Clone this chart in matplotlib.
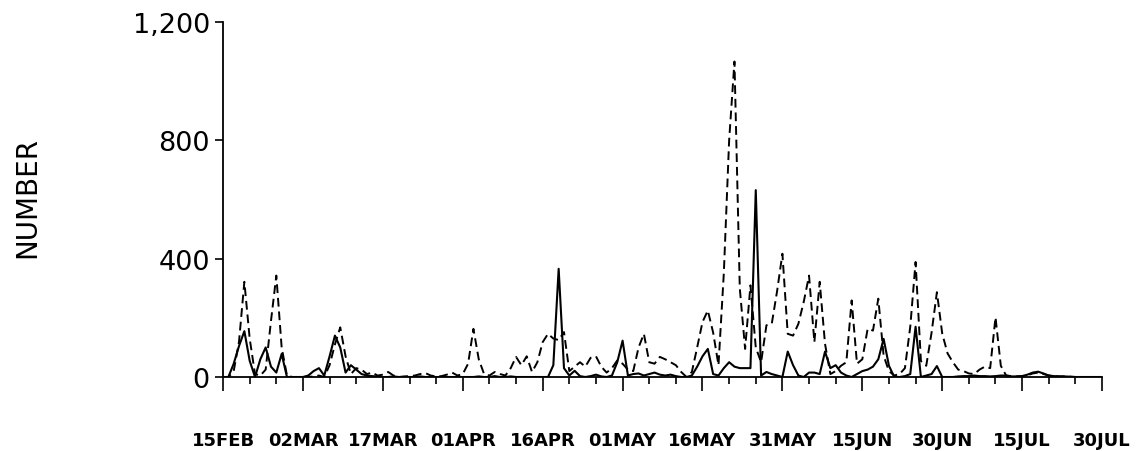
"""
Daily counts, 15 Feb - 30 Jul: two series (solid and dashed) on one panel
"""

import numpy as np
import pandas as pd
import matplotlib
matplotlib.use('Agg')  # no display
import matplotlib.pyplot as plt

# Daily dates (non-leap year: 15FEB + 15 days = 02MAR)
dates = pd.date_range('1991-02-15', '1991-07-30', freq='D')

# Solid series, one value per day (15-day blocks)
solid = [
    0, 0, 45, 105, 155, 55, 0, 60, 100, 35, 15, 78, 0, 0, 0,          # 15FEB
    0, 5, 20, 30, 5, 70, 140, 100, 15, 40, 25, 10, 5, 3, 2,           # 02MAR
    0, 0, 2, 0, 0, 0, 0, 2, 0, 0, 0, 0, 0, 0, 0,                      # 17MAR
    0, 0, 0, 2, 0, 0, 3, 0, 0, 2, 0, 0, 0, 0, 0,                      # 01APR
    0, 0, 40, 366, 30, 5, 21, 3, 0, 3, 8, 2, 0, 5, 50,                # 16APR
    123, 5, 10, 12, 5, 10, 15, 8, 5, 8, 3, 0, 0, 5, 35,               # 01MAY
    70, 95, 10, 5, 30, 50, 35, 30, 30, 30, 632, 5, 17, 10, 5,         # 16MAY
    0, 86, 40, 5, 0, 15, 15, 10, 86, 30, 40, 15, 5, 0, 10,            # 31MAY
    20, 25, 35, 60, 129, 38, 0, 0, 3, 10, 170, 0, 5, 10, 37,          # 15JUN
    0, 0, 0, 2, 3, 3, 5, 3, 3, 2, 3, 5, 5, 2, 2,                      # 30JUN
    3, 8, 15, 18, 12, 5, 3, 2, 2, 1, 0, 0, 0, 0, 0,                   # 15JUL
    0,                                                                # 30JUL
]

# Dashed series
dashed = [
    0, 0, 20, 120, 322, 130, 10, 5, 25, 190, 343, 100, 5, 0, 0,
    0, 0, 2, 5, 0, 40, 110, 168, 70, 10, 30, 25, 10, 15, 5,
    8, 17, 5, 0, 2, 3, 5, 10, 13, 5, 2, 3, 8, 15, 5,
    10, 45, 163, 60, 10, 5, 17, 10, 5, 30, 68, 40, 70, 17, 50,
    118, 146, 130, 125, 152, 20, 35, 50, 35, 65, 70, 35, 15, 30, 56,
    45, 25, 20, 100, 146, 50, 45, 68, 60, 50, 40, 17, 0, 17, 100,
    186, 225, 150, 40, 350, 800, 1067, 300, 95, 310, 100, 50, 175, 180, 290,
    417, 146, 140, 180, 254, 343, 118, 322, 112, 10, 20, 38, 50, 259, 45,
    60, 163, 157, 265, 72, 20, 5, 10, 30, 170, 389, 54, 38, 150, 287,
    147, 80, 50, 25, 20, 12, 10, 25, 35, 30, 202, 38, 5, 3, 2,
    3, 6, 12, 15, 10, 5, 3, 2, 2, 1, 0, 0, 0, 0, 0,
    0,
]

x_tick_labels = ['15FEB', '02MAR', '17MAR', '01APR', '16APR', '01MAY',
                 '16MAY', '31MAY', '15JUN', '30JUN', '15JUL', '30JUL']
y_ticks = [0, 400, 800, 1200]
y_tick_labels = ['0', '400', '800', '1,200']

fig = plt.figure(figsize=(11.38, 4.52), dpi=100)
ax = fig.add_axes([0.196, 0.1637, 0.7724, 0.785])

ax.plot(dates, dashed, color='black', linewidth=1.4, dashes=(4.5, 2.5))
ax.plot(dates, solid, color='black', linewidth=1.5)

ax.set_xlim(dates[0], dates[-1])
ax.set_ylim(0, 1200)

# Major ticks every 15 days, minor every 5
ax.set_xticks(pd.date_range(dates[0], periods=len(x_tick_labels), freq='15D'))
ax.set_xticklabels(x_tick_labels, fontsize=13, fontweight='bold')
ax.set_xticks(pd.date_range(dates[0], dates[-1], freq='5D'), minor=True)
ax.set_yticks(y_ticks)
ax.set_yticklabels(y_tick_labels, fontsize=19.5)

ax.tick_params(axis='x', which='major', length=10, width=1.2, pad=29)
ax.tick_params(axis='x', which='minor', length=5, width=1.2)
ax.tick_params(axis='y', length=6, width=1.2, pad=3.5)

for side in ['top', 'right']:
    ax.spines[side].set_visible(False)
for side in ['left', 'bottom']:
    ax.spines[side].set_linewidth(1.3)

fig.text(27 / 1138, 1 - 198 / 452, 'NUMBER', rotation=90,
         ha='center', va='center', fontsize=20)

fig.savefig('out.png', dpi=100)
plt.close('all')
